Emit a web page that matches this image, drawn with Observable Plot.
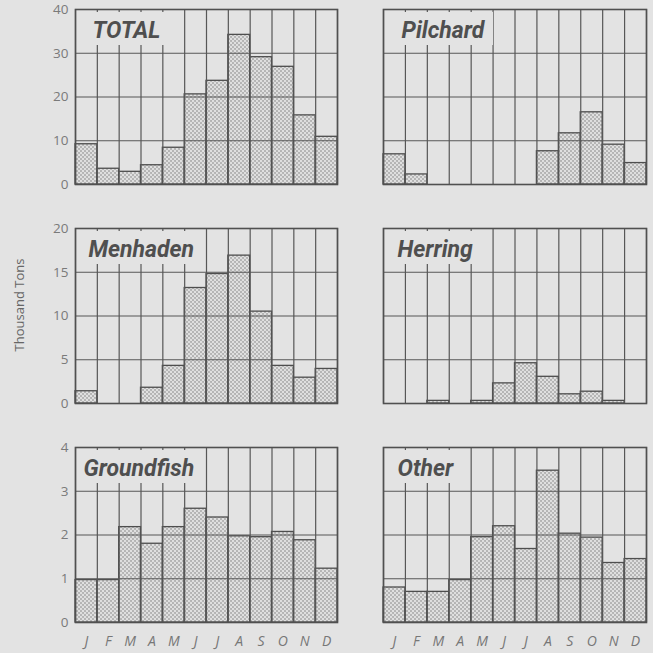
<!DOCTYPE html>
<html>
<head>
<meta charset="utf-8">
<script src="https://cdn.jsdelivr.net/npm/d3@7"></script>
<script src="https://cdn.jsdelivr.net/npm/@observablehq/plot@0.6"></script>
<style>
  html, body { margin: 0; padding: 0; background: #e3e3e3; }
  #root { position: relative; width: 653px; height: 653px; overflow: hidden; background: #e3e3e3; }
  .panel { position: absolute; }
  .panel svg { display: block; }
  .ttl { position: absolute; background: #e3e3e3; color: #4f4f4f; font-family: Roboto, "DejaVu Sans", sans-serif;
         font-style: italic; font-weight: 700; font-size: 23px; line-height: 28px; height: 28px; padding-top: 5px;
         white-space: nowrap; }
  .ylab { position: absolute; left: 19px; top: 305px; transform: translate(-50%, -50%) rotate(-90deg);
          font-family: "Open Sans", sans-serif; font-size: 13px; color: #666; white-space: nowrap; }
</style>
</head>
<body>
<div id="root">
  <svg width="0" height="0" style="position:absolute">
    <defs>
      <pattern id="dots" width="4" height="4" patternUnits="userSpaceOnUse">
        <rect width="4" height="4" fill="#b3b3b3"></rect>
        <circle cx="1" cy="1" r="1.15" fill="#e2e2e2"></circle>
        <circle cx="3" cy="3" r="1.15" fill="#e2e2e2"></circle>
      </pattern>
    </defs>
  </svg>
</div>
<script>
// ---- data ----
const months = ["J","F","M","A","M","J","J","A","S","O","N","D"];
const total      = [9.2, 3.6, 2.9, 4.4, 8.4, 20.6, 23.7, 34.2, 29.1, 26.9, 15.8, 10.9];
const pilchard   = [6.9, 2.3, 0, 0, 0, 0, 0, 7.6, 11.7, 16.5, 9.1, 4.9];
const menhaden   = [1.4, 0, 0, 1.8, 4.3, 13.2, 14.8, 16.9, 10.5, 4.3, 2.95, 3.95];
const herring    = [0, 0, 0.3, 0, 0.3, 2.3, 4.6, 3.05, 1.05, 1.35, 0.3, 0];
const groundfish = [0.97, 0.97, 2.18, 1.8, 2.18, 2.6, 2.4, 1.97, 1.95, 2.07, 1.88, 1.23];
const other      = [0.8, 0.7, 0.7, 0.97, 1.95, 2.2, 1.68, 3.47, 2.03, 1.94, 1.36, 1.45];
const titles = ["TOTAL", "Pilchard", "Menhaden", "Herring", "Groundfish", "Other"];
const rowTicks = [[0, 10, 20, 30, 40], [0, 5, 10, 15, 20], [0, 1, 2, 3, 4]];
const yLabel = "Thousand Tons";

const series = [total, pilchard, menhaden, herring, groundfish, other];

// ---- layout ----
const cols = [
  {left: 40, width: 300, ml: 35, mr: 3},
  {left: 378, width: 272, ml: 5, mr: 4}
];
const rows = [
  {top: 0, mt: 9, mb: 6},
  {top: 213, mt: 15, mb: 6},
  {top: 432, mt: 15, mb: 31}
];
const frameH = 175;
const titlePad = [16, 17, 12, 13, 7, 13];
const ink = "#575757";

const root = document.getElementById("root");

series.forEach((vals, k) => {
  const r = Math.floor(k / 2), c = k % 2;
  const col = cols[c], row = rows[r];
  const ticks = rowTicks[r];
  const data = vals.map((v, i) => ({i, v, m: months[i]}));
  const marks = [
    Plot.rectY(data.filter(d => d.v > 0), {
      x1: d => d.i, x2: d => d.i + 1, y: "v",
      fill: "url(#dots)", stroke: "#4e4e4e", strokeWidth: 1.3
    }),
    Plot.ruleY(ticks, {stroke: ink, strokeWidth: 1.2}),
    Plot.ruleX(d3.range(months.length + 1), {stroke: ink, strokeWidth: 1.2}),
    Plot.frame({stroke: "#505050", strokeWidth: 1.6})
  ];
  if (c === 0) {
    marks.push(Plot.text(ticks, {
      y: d => d, frameAnchor: "left", dx: -7, textAnchor: "end", text: d => String(d),
      fill: "#7a7a7a", fontSize: 13.5, fontFamily: "Open Sans, sans-serif"
    }));
  }
  if (r === 2) {
    marks.push(Plot.text(data, {
      x: d => d.i + 0.5, frameAnchor: "bottom", dy: 19, lineAnchor: "middle", text: "m",
      fill: "#777", fontSize: 14, fontStyle: "italic", fontFamily: "Open Sans, sans-serif"
    }));
  }
  const chart = Plot.plot({
    width: col.width,
    height: row.mt + frameH + row.mb,
    marginLeft: col.ml, marginRight: col.mr, marginTop: row.mt, marginBottom: row.mb,
    x: {domain: [0, months.length], axis: null},
    y: {domain: [ticks[0], ticks[ticks.length - 1]], axis: null},
    style: {background: "transparent", overflow: "visible"},
    marks
  });
  const wrap = document.createElement("div");
  wrap.className = "panel";
  wrap.style.left = col.left + "px";
  wrap.style.top = row.top + "px";
  wrap.appendChild(chart);
  root.appendChild(wrap);

  const t = document.createElement("div");
  t.className = "ttl";
  t.textContent = titles[k];
  t.style.left = (col.left + col.ml + 1.5) + "px";
  t.style.top = (row.top + row.mt + 3) + "px";
  t.style.paddingLeft = titlePad[k] + "px";
  t.style.paddingRight = "9px";
  root.appendChild(t);
});

const yl = document.createElement("div");
yl.className = "ylab";
yl.textContent = yLabel;
root.appendChild(yl);
</script>
</body>
</html>
